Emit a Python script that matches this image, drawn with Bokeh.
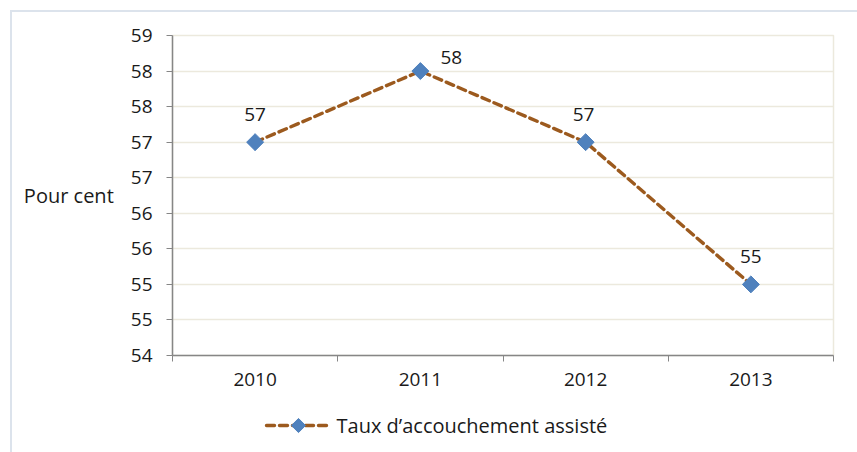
import math
from bokeh.plotting import figure
from bokeh.layouts import column
from bokeh.models import (ColumnDataSource, FixedTicker, Range1d, LabelSet, Label)
from bokeh.core.properties import value
from bokeh.embed import file_html
from bokeh.resources import INLINE

years = ["2010", "2011", "2012", "2013"]
values = [57, 58, 57, 55]
data_labels = ["57", "58", "57", "55"]
y_ticks = [54, 54.5, 55, 55.5, 56, 56.5, 57, 57.5, 58, 58.5]
y_tick_labels = ["54", "55", "55", "56", "56", "57", "57", "58", "58", "59"]
series_name = "Taux d\u2019accouchement assist\u00e9"

FONT = "Open Sans"
TXT = "#1a1a1a"
LINE_COLOR = "#9C5A1E"
MARK_COLOR = "#4F81BD"
W = 857
BL, BR = 172, 24
xs = [i + 0.5 for i in range(len(years))]
label_dx = [0, 31, -2, 0]   # style offsets of the data labels (px)
label_dy = [21, 7, 21, 21]

src = ColumnDataSource(dict(x=xs, y=values, lab=data_labels, dx=label_dx, dy=label_dy))

p = figure(width=W, height=400, output_backend="svg", toolbar_location=None,
           x_range=Range1d(0, len(years)), y_range=Range1d(y_ticks[0], y_ticks[-1]),
           min_border_left=BL, min_border_right=BR, min_border_top=35, min_border_bottom=45,
           border_fill_color=None)

ln = p.line("x", "y", source=src, line_color=LINE_COLOR, line_width=3.4,
            line_dash="8 5", line_cap="round")
mk = p.scatter("x", "y", source=src, marker="square", angle=math.pi / 4, size=12,
               fill_color=MARK_COLOR, line_color=MARK_COLOR)

labels = LabelSet(x="x", y="y", text="lab", source=src, x_offset="dx", y_offset="dy",
                  text_align="center", text_baseline="bottom", text_font=value(FONT),
                  text_font_size="19px", text_color=TXT)
p.add_layout(labels)

# axes
p.xaxis.ticker = FixedTicker(ticks=xs, minor_ticks=list(range(len(years) + 1)))
p.xaxis.major_label_overrides = {x: y for x, y in zip(xs, years)}
p.xaxis.major_tick_out = 0
p.xaxis.major_tick_in = 0
p.xaxis.minor_tick_out = 6
p.xaxis.minor_tick_in = 0
p.xaxis.minor_tick_line_color = "#868686"
p.xaxis.axis_line_color = "#868686"
p.xaxis.axis_line_width = 1.5
p.xaxis.major_label_standoff = 11
p.xaxis.major_label_text_font = FONT
p.xaxis.major_label_text_font_size = "19px"
p.xaxis.major_label_text_color = TXT

p.yaxis.ticker = FixedTicker(ticks=y_ticks, minor_ticks=[])
p.yaxis.major_label_overrides = {t: l for t, l in zip(y_ticks, y_tick_labels)}
p.yaxis.major_tick_out = 6
p.yaxis.major_tick_in = 0
p.yaxis.major_tick_line_color = "#868686"
p.yaxis.axis_line_color = "#868686"
p.yaxis.axis_line_width = 1.5
p.yaxis.major_label_standoff = 14
p.yaxis.major_label_text_font = FONT
p.yaxis.major_label_text_font_size = "19px"
p.yaxis.major_label_text_color = TXT
p.yaxis.axis_label = "Pour cent"
p.yaxis.axis_label_orientation = "horizontal"
p.yaxis.axis_label_standoff = 14
p.yaxis.axis_label_text_font = FONT
p.yaxis.axis_label_text_font_size = "20px"
p.yaxis.axis_label_text_font_style = "normal"
p.yaxis.axis_label_text_color = TXT

p.xgrid.grid_line_color = None
p.ygrid.grid_line_color = "#ECE9DD"
p.ygrid.grid_line_width = 1.5
p.outline_line_color = "#ECE9DD"
p.outline_line_width = 1.5

# legend strip below the chart; its frame spans the same pixels as the chart frame
LH = 52
lf = figure(width=W, height=LH, output_backend="svg", toolbar_location=None,
            x_range=Range1d(BL, W - BR), y_range=Range1d(LH, 0),
            min_border_left=BL, min_border_right=BR, min_border_top=0, min_border_bottom=0,
            outline_line_color=None, border_fill_color=None, background_fill_color=None)
lf.axis.visible = False
lf.grid.visible = False
key_x0, key_x1, key_y = 266, 330, 25
lf.line([key_x0, key_x1], [key_y, key_y], line_color=LINE_COLOR, line_width=3.4,
        line_dash="8 5", line_cap="round")
lf.scatter([(key_x0 + key_x1) / 2], [key_y], marker="square", angle=math.pi / 4, size=10,
           fill_color=MARK_COLOR, line_color=MARK_COLOR)
lf.add_layout(Label(x=key_x1 + 6, y=key_y, text=series_name, text_font=FONT,
                    text_font_size="20px", text_color=TXT, text_baseline="middle",
                    text_align="left"))

layout = column(p, lf, spacing=0)
layout.styles = {
    "background": ("linear-gradient(#DCE3EC,#DCE3EC) 10px 10px / 2px 100% no-repeat, "
                   "linear-gradient(#DCE3EC,#DCE3EC) 10px 10px / 100% 2px no-repeat, #ffffff"),
}

open("out.html", "w").write(file_html(layout, INLINE))
